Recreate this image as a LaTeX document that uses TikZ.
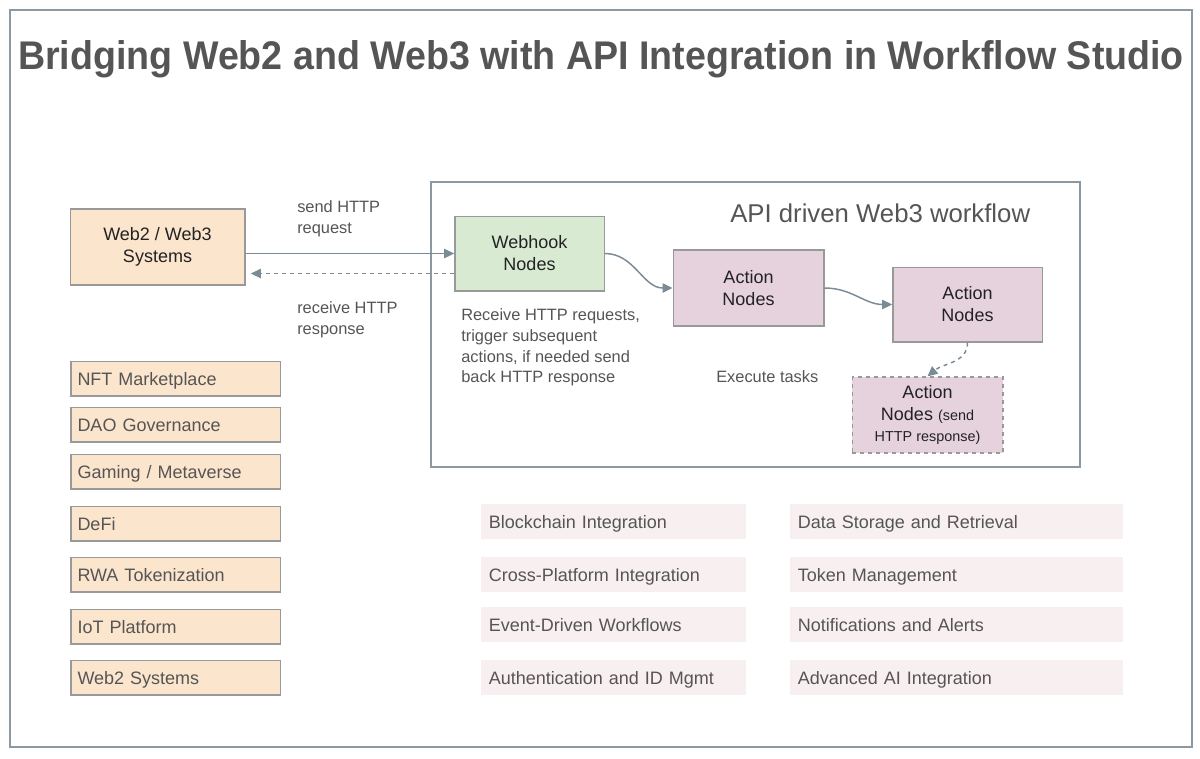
\documentclass[tikz,border=0pt]{standalone}
\usepackage{fontspec}
\setmainfont{Liberation Sans}
\usetikzlibrary{arrows.meta,positioning,calc}
\definecolor{edge}{HTML}{8C98A2}
\definecolor{boxline}{HTML}{999999}
\definecolor{peach}{HTML}{FCE5CD}
\definecolor{mint}{HTML}{D9EAD3}
\definecolor{mauve}{HTML}{E6D2DC}
\definecolor{blush}{HTML}{F8EFF1}
\definecolor{wire}{HTML}{7A8B96}
\definecolor{ink}{HTML}{222222}
\definecolor{grey}{HTML}{555555}
\tikzset{sysbox/.style={draw=boxline,line width=1pt,fill=peach,align=center,text=ink,font=\fontsize{13.5}{16.5}\selectfont,minimum width=131pt,minimum height=57pt}, hookbox/.style={sysbox,fill=mint,minimum width=112pt,minimum height=56pt}, actbox/.style={sysbox,fill=mauve,minimum width=113pt,minimum height=57pt}, usecase/.style={draw=boxline,line width=1pt,fill=peach,text=grey,text width=147pt,inner xsep=5pt,inner ysep=0pt,text height=12.9pt,text depth=2.8pt,minimum height=26pt,align=left,font=\fontsize{13.5}{16}\selectfont}, feature/.style={fill=blush,text=grey,inner xsep=6pt,inner ysep=0pt,text height=12.9pt,text depth=2.8pt,minimum height=26pt,align=left,font=\fontsize{13.5}{16}\selectfont}, lbl/.style={inner sep=0pt,anchor=west,align=left,text=grey,font=\fontsize{12.3}{15.4}\selectfont}, arr/.style={-{Triangle[length=7.5pt,width=7pt]},line width=1.1pt,draw=wire}, frame/.style={draw=edge,line width=1.1pt}}

\begin{document}
\begin{tikzpicture}[x=0.75pt,y=-0.75pt]
\useasboundingbox (0,0) rectangle (1200,758);
\draw[frame] (10,10) rectangle (1192,747);
\node[text=grey,font=\fontsize{30}{34}\selectfont\bfseries] (title) at (601,59) {\scalebox{0.94}[1]{Bridging Web2 and Web3 with API Integration in Workflow Studio}};
% workflow container
\draw[frame] (431,182) rectangle (1080,467);
\node[lbl,text=grey,font=\fontsize{19.3}{23}\selectfont] (flowlbl) at (730,213) {API driven Web3 workflow};
\node[sysbox] (sys) at (157.5,247) {Web2 / Web3\\Systems};
\node[hookbox] (hook) at (529.5,253.5) {Webhook\\Nodes};
\node[actbox] (actA) at (748.5,288) {Action\\Nodes};
\node[actbox,minimum width=112pt,minimum height=56pt] (actB) at (967.5,304.5) {Action\\Nodes};
\node[actbox,dashed,font=\fontsize{13.5}{16}\selectfont] (actC) at (927.5,415) {Action\\Nodes {\fontsize{10.8}{15}\selectfont(send}\\{\fontsize{10.8}{15}\selectfont HTTP response)}};
\node[lbl] (sendlbl) at (297,219) {send HTTP\\request};
\node[lbl] (recvlbl) at (297,320) {receive HTTP\\response};
\node[lbl] (hooklbl) at (461,347.5) {Receive HTTP requests,\\trigger subsequent\\actions, if needed send\\back HTTP response};
\node[lbl] (tasklbl) at (716,377) {Execute tasks};
\draw[arr] (sys.east |- hook.west) -- (hook.west);
\draw[arr,dashed] ($(hook.west)+(0,-15pt)$) -- ($(sys.east |- hook.west)+(4pt,-15pt)$);
\draw[arr] (hook.east) to[out=0,in=180] (actA.west);
\draw[arr] (actA.east) to[out=0,in=180] (actB.west);
\draw[arr,dashed] (actB.south) to[out=-90,in=40] (actC.north);
% use cases
\node[usecase] (nft) at (175.5,378.5) {NFT Marketplace};
\node[usecase] (dao) at (175.5,424.5) {DAO Governance};
\node[usecase] (game) at (175.5,471.5) {Gaming / Metaverse};
\node[usecase] (defi) at (175.5,523.5) {DeFi};
\node[usecase] (rwa) at (175.5,574.5) {RWA Tokenization};
\node[usecase] (iot) at (175.5,626.5) {IoT Platform};
\node[usecase] (webtwo) at (175.5,677.5) {Web2 Systems};
% features
\node[feature,text width=187pt] (blk) at (613.5,521.5) {Blockchain Integration};
\node[feature,text width=187pt] (xplat) at (613.5,574.5) {Cross-Platform Integration};
\node[feature,text width=187pt] (event) at (613.5,624.5) {Event-Driven Workflows};
\node[feature,text width=187pt] (auth) at (613.5,677.5) {Authentication and ID Mgmt};
\node[feature,text width=238pt] (data) at (956.5,521.5) {Data Storage and Retrieval};
\node[feature,text width=238pt] (token) at (956.5,574.5) {Token Management};
\node[feature,text width=238pt] (notif) at (956.5,624.5) {Notifications and Alerts};
\node[feature,text width=238pt] (ai) at (956.5,677.5) {Advanced AI Integration};
\end{tikzpicture}
\end{document}
